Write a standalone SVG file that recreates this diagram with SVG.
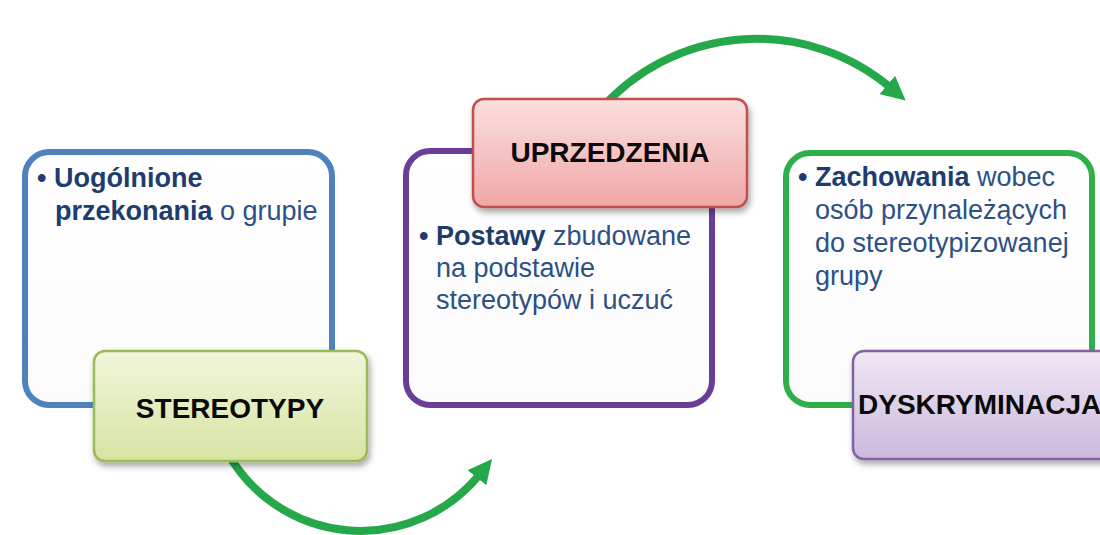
<svg xmlns="http://www.w3.org/2000/svg" width="1100" height="535" viewBox="0 0 1100 535">
<defs>
<style>
.body{fill:url(#gWhite);stroke-width:6}
.lbl{stroke-width:2.5;filter:url(#sh)}
.t{font-family:"Liberation Sans",Arial,sans-serif;font-size:27px;fill:#2d5086}
.t .b{font-weight:bold;fill:#1f3c6e}
.L{font-family:"Liberation Sans",Arial,sans-serif;font-size:28px;font-weight:bold;fill:#0a0a0a}
.arc{fill:none;stroke:#25a84a;stroke-width:8}
</style>
<linearGradient id="gWhite" x1="0" y1="0" x2="0" y2="1"><stop offset="0" stop-color="#ffffff"/><stop offset="1" stop-color="#fbfbfb"/></linearGradient>
<linearGradient id="gGreen" x1="0" y1="0" x2="0" y2="1"><stop offset="0" stop-color="#f1f6dc"/><stop offset="1" stop-color="#d6e4a2"/></linearGradient>
<linearGradient id="gRed" x1="0" y1="0" x2="0" y2="1"><stop offset="0" stop-color="#fbdfe0"/><stop offset="1" stop-color="#f0a7a6"/></linearGradient>
<linearGradient id="gPurple" x1="0" y1="0" x2="0" y2="1"><stop offset="0" stop-color="#efe8f4"/><stop offset="1" stop-color="#cbb9de"/></linearGradient>
<filter id="sh" x="-10%" y="-10%" width="130%" height="140%"><feDropShadow dx="2" dy="4" stdDeviation="3" flood-color="#000" flood-opacity="0.35"/></filter>
<marker id="ah" markerUnits="userSpaceOnUse" markerWidth="24" markerHeight="24" viewBox="0 0 20 20" refX="4" refY="10" orient="auto"><path d="M0,0 L20,10 L0,20 z" fill="#25a84a"/></marker>
</defs>
<rect width="1100" height="535" fill="#ffffff"/>
<g id="connectors">
<path class="arc" d="M226,450 A153,153 0 0 0 480,474" marker-end="url(#ah)"/>
<path class="arc" d="M600,110 A208,208 0 0 1 891,88" marker-end="url(#ah)"/>
</g>
<g id="stereotypy-box">
<rect class="body" x="25" y="152" width="307" height="253" rx="24" stroke="#4f81bd"/>
<text class="t" x="37" y="187"><tspan class="b">• Uogólnione</tspan></text>
<text class="t" x="55" y="220"><tspan class="b">przekonania</tspan> o grupie</text>
</g>
<g id="stereotypy">
<rect class="lbl" x="94" y="351" width="273" height="110" rx="11" fill="url(#gGreen)" stroke="#9bbb59"/>
<text class="L" x="230" y="418" text-anchor="middle">STEREOTYPY</text>
</g>
<g id="uprzedzenia-box">
<rect class="body" x="406" y="151" width="306" height="254" rx="24" stroke="#6b3d99"/>
<text class="t" x="419" y="245"><tspan class="b">• Postawy</tspan> zbudowane</text>
<text class="t" x="436" y="277">na podstawie</text>
<text class="t" x="436" y="309">stereotypów i uczuć</text>
</g>
<g id="uprzedzenia">
<rect class="lbl" x="473" y="99" width="274" height="108" rx="11" fill="url(#gRed)" stroke="#c0504d"/>
<text class="L" x="610" y="162" text-anchor="middle">UPRZEDZENIA</text>
</g>
<g id="dyskryminacja-box">
<rect class="body" x="786" y="153" width="306" height="252" rx="24" stroke="#2fae4c"/>
<text class="t" x="798" y="186"><tspan class="b">• Zachowania</tspan> wobec</text>
<text class="t" x="815" y="219">osób przynależących</text>
<text class="t" x="815" y="252">do stereotypizowanej</text>
<text class="t" x="815" y="285">grupy</text>
</g>
<g id="dyskryminacja">
<rect class="lbl" x="853" y="351" width="280" height="108" rx="11" fill="url(#gPurple)" stroke="#8064a2"/>
<text class="L" x="858" y="414">DYSKRYMINACJA</text>
</g>
</svg>
